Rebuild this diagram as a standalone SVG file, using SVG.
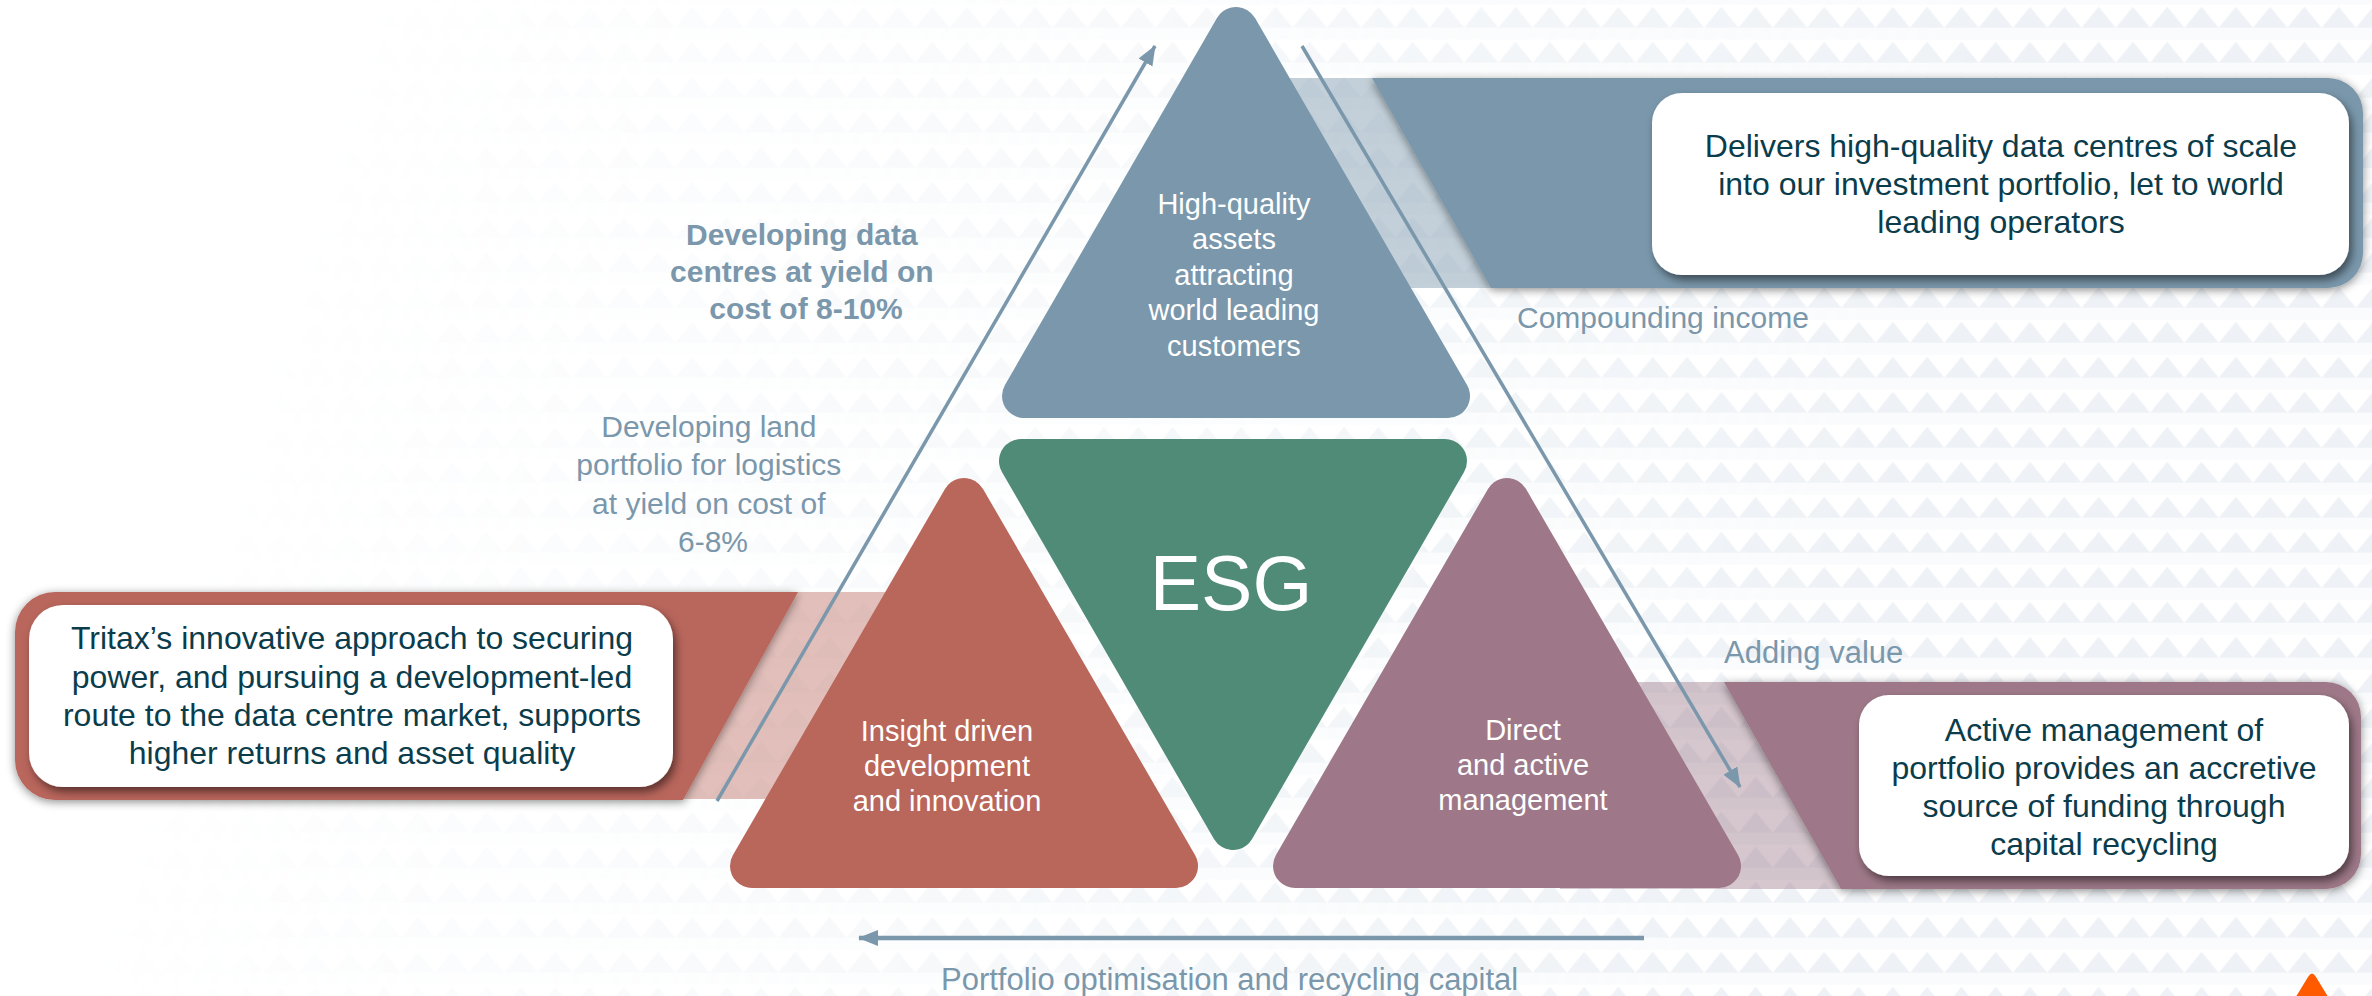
<svg xmlns="http://www.w3.org/2000/svg" width="2372" height="996" viewBox="0 0 2372 996">
  <defs>
    <style>
      .lbl { font-family: "Liberation Sans", Arial, sans-serif; fill: #7A97AB; }
      .box-txt { font-family: "Liberation Sans", Arial, sans-serif; font-size: 32px; fill: #0B3C4B; text-anchor: middle; }
      .tri-txt { font-family: "Liberation Sans", Arial, sans-serif; font-size: 29px; fill: #FFFFFF; text-anchor: middle; }
      .arrow { stroke: #7A97AB; fill: none; }
    </style>
    <pattern id="zigzag" patternUnits="userSpaceOnUse" x="23.5" y="6.7" width="34.3" height="35">
      <polygon points="0,21 17.15,0 34.3,21" fill="#EEF2F6"/>
      <rect x="0" y="21" width="34.3" height="12" fill="#EEF2F6" opacity="0.35"/>
    </pattern>
    <linearGradient id="fadeGrad" gradientUnits="userSpaceOnUse" x1="330" y1="0" x2="1900" y2="450">
      <stop offset="0" stop-color="#000"/>
      <stop offset="1" stop-color="#fff"/>
    </linearGradient>
    <mask id="fadeMask">
      <rect width="2372" height="996" fill="url(#fadeGrad)"/>
    </mask>
    <filter id="bandShadow" x="-5%" y="-20%" width="110%" height="140%">
      <feDropShadow dx="0" dy="2" stdDeviation="5" flood-color="#000" flood-opacity="0.45"/>
    </filter>
    <filter id="boxShadow" x="-5%" y="-15%" width="110%" height="135%">
      <feDropShadow dx="3" dy="5" stdDeviation="4" flood-color="#000" flood-opacity="0.5"/>
    </filter>
    <marker id="head" markerUnits="userSpaceOnUse" viewBox="0 0 20 18" markerWidth="20" markerHeight="18" refX="19" refY="9" orient="auto">
      <path d="M0,1 L20,9 L0,17 Z" fill="#7A97AB"/>
    </marker>
  </defs>

  <!-- page background with a faint zigzag texture fading in towards the right -->
  <g id="background">
    <rect width="2372" height="996" fill="#FFFFFF"/>
    <rect width="2372" height="996" fill="url(#zigzag)" mask="url(#fadeMask)"/>
  </g>

  <!-- callout: data centres of scale -->
  <g id="callout-data-centres">
    <rect x="1240" y="78" width="270" height="210" fill="#7A97AB" opacity="0.45"/>
    <path d="M1372,78 L2328,78 A35,35 0 0 1 2363,113 L2363,253 A35,35 0 0 1 2328,288 L1491,288 Z" fill="#7A97AB" filter="url(#bandShadow)"/>
    <rect x="1652" y="93" width="697" height="182" rx="30" fill="#FFFFFF" filter="url(#boxShadow)"/>
    <text class="box-txt" x="2001" y="157">Delivers high-quality data centres of scale</text>
    <text class="box-txt" x="2001" y="195">into our investment portfolio, let to world</text>
    <text class="box-txt" x="2001" y="233">leading operators</text>
  </g>

  <!-- callout: securing power -->
  <g id="callout-power">
    <rect x="680" y="592" width="230" height="207" fill="#B9665B" opacity="0.42"/>
    <path d="M798,592 L683,800 L55,800 A40,40 0 0 1 15,760 L15,632 A40,40 0 0 1 55,592 Z" fill="#B9665B" filter="url(#bandShadow)"/>
    <rect x="29" y="605" width="644" height="182" rx="34" fill="#FFFFFF" filter="url(#boxShadow)"/>
    <text class="box-txt" x="352" y="649">Tritax’s innovative approach to securing</text>
    <text class="box-txt" x="352" y="688">power, and pursuing a development-led</text>
    <text class="box-txt" x="352" y="726">route to the data centre market, supports</text>
    <text class="box-txt" x="352" y="764">higher returns and asset quality</text>
  </g>

  <!-- callout: capital recycling -->
  <g id="callout-recycling">
    <rect x="1560" y="682" width="290" height="207" fill="#9E7888" opacity="0.42"/>
    <path d="M1724,682 L2326,682 A35,35 0 0 1 2361,717 L2361,854 A35,35 0 0 1 2326,889 L1841,889 Z" fill="#9E7888" filter="url(#bandShadow)"/>
    <rect x="1859" y="695" width="490" height="181" rx="30" fill="#FFFFFF" filter="url(#boxShadow)"/>
    <text class="box-txt" x="2104" y="741">Active management of</text>
    <text class="box-txt" x="2104" y="779">portfolio provides an accretive</text>
    <text class="box-txt" x="2104" y="817">source of funding through</text>
    <text class="box-txt" x="2104" y="855">capital recycling</text>
  </g>

  <!-- the four triangles; a wide round-joined stroke gives the soft corners -->
  <g id="node-high-quality">
    <polygon points="1236,29 1448,396 1024,396" fill="#7A97AB" stroke="#7A97AB" stroke-width="44" stroke-linejoin="round"/>
    <text class="tri-txt" x="1234" y="214">High-quality</text>
    <text class="tri-txt" x="1234" y="249">assets</text>
    <text class="tri-txt" x="1234" y="285">attracting</text>
    <text class="tri-txt" x="1234" y="320">world leading</text>
    <text class="tri-txt" x="1234" y="356">customers</text>
  </g>

  <g id="node-esg">
    <polygon points="1021,461 1445,461 1233,828" fill="#4F8B76" stroke="#4F8B76" stroke-width="44" stroke-linejoin="round"/>
    <text x="1231" y="610" font-family="Liberation Sans, Arial, sans-serif" font-size="77" fill="#FFFFFF" text-anchor="middle">ESG</text>
  </g>

  <g id="node-insight">
    <polygon points="964,500 1176,866 752,866" fill="#B9665B" stroke="#B9665B" stroke-width="44" stroke-linejoin="round"/>
    <text class="tri-txt" x="947" y="741">Insight driven</text>
    <text class="tri-txt" x="947" y="776">development</text>
    <text class="tri-txt" x="947" y="811">and innovation</text>
  </g>

  <g id="node-direct">
    <polygon points="1507,500 1719,866 1295,866" fill="#9E7888" stroke="#9E7888" stroke-width="44" stroke-linejoin="round"/>
    <text class="tri-txt" x="1523" y="740">Direct</text>
    <text class="tri-txt" x="1523" y="775">and active</text>
    <text class="tri-txt" x="1523" y="810">management</text>
  </g>

  <!-- cycle arrows -->
  <g id="connectors">
    <line class="arrow" x1="717" y1="801" x2="1155" y2="46" stroke-width="3.5" marker-end="url(#head)"/>
    <line class="arrow" x1="1302" y1="46" x2="1740" y2="787" stroke-width="3.5" marker-end="url(#head)"/>
    <line class="arrow" x1="1644" y1="938" x2="859" y2="938" stroke-width="4.5" marker-end="url(#head)"/>
  </g>

  <!-- arrow labels -->
  <g id="labels">
    <text class="lbl" font-size="30" font-weight="bold" text-anchor="middle">
      <tspan x="806" y="245">Developing data</tspan>
      <tspan x="806" y="282">centres at yield on</tspan>
      <tspan x="806" y="319">cost of 8-10%</tspan>
    </text>
    <text class="lbl" font-size="30" text-anchor="middle">
      <tspan x="713" y="437">Developing land</tspan>
      <tspan x="713" y="475">portfolio for logistics</tspan>
      <tspan x="713" y="514">at yield on cost of</tspan>
      <tspan x="713" y="552">6-8%</tspan>
    </text>
    <text class="lbl" font-size="30" x="1517" y="328">Compounding income</text>
    <text class="lbl" font-size="31" x="1724" y="663">Adding value</text>
    <text class="lbl" font-size="31" x="941" y="990">Portfolio optimisation and recycling capital</text>
  </g>

  <!-- corner accent -->
  <g id="corner-accent">
    <path d="M2308,977 Q2312,970 2316,977 L2330,1000 L2294,1000 Z" fill="#FF5A00"/>
  </g>
</svg>
